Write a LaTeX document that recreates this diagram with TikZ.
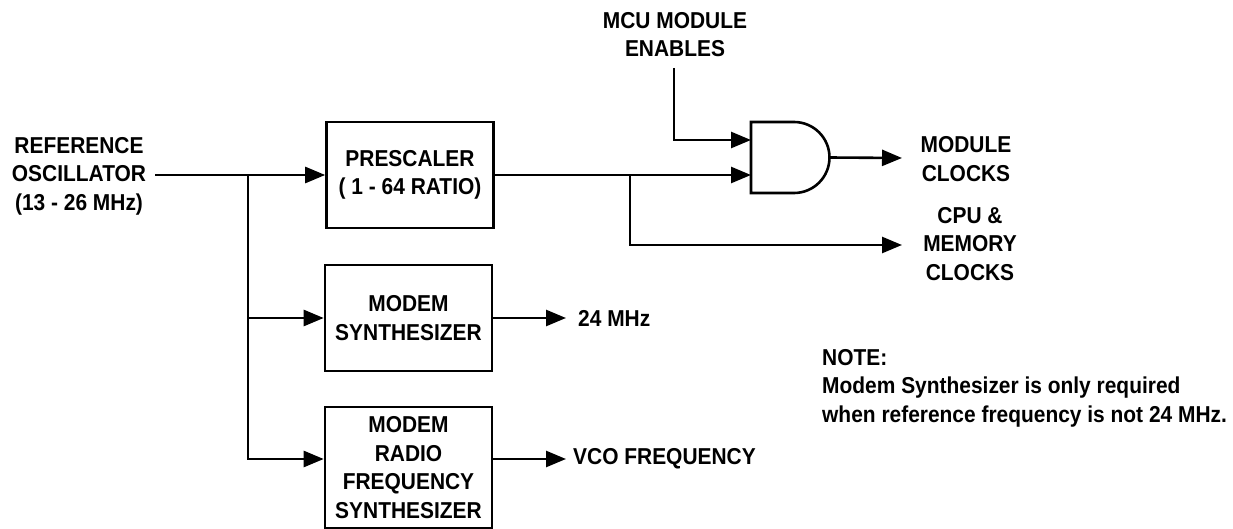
\documentclass[tikz,border=0pt]{standalone}
\usepackage{fontspec}
\setmainfont{Liberation Sans}
\newfontfamily\labfont{Liberation Sans}[FakeStretch=0.91]
\usetikzlibrary{arrows.meta}
\begin{document}
\begin{tikzpicture}[x=1pt,y=-1pt,
  lab/.style={font=\labfont\bfseries\fontsize{23}{28.5}\selectfont, align=center, inner sep=0pt},
  blockbox/.style={draw, line width=2.6pt, lab, minimum width=167pt},
  wire/.style={line width=2.6pt},
  arr/.style={wire, -{Triangle[length=20pt,width=16pt]}}]
\useasboundingbox (0,0) rectangle (1233,529);

% blocks
\node[blockbox, minimum height=106pt] (pre) at (410,175) {PRESCALER\\( 1 - 64 RATIO)};
\node[blockbox, minimum height=106pt] (ms) at (408.5,318) {MODEM\\SYNTHESIZER};
\node[blockbox, minimum height=121pt] (rf) at (408.5,467.5) {MODEM\\RADIO\\FREQUENCY\\SYNTHESIZER};

% labels
\node[lab] (ref) at (79,176) {REFERENCE\\OSCILLATOR\\(13 - 26 MHz)};
\node[lab] (en) at (675,34.5) {MCU MODULE\\ENABLES};
\node[lab] (modclk) at (966,159) {MODULE\\CLOCKS};
\node[lab] (cpuclk) at (970,244) {CPU \&\\MEMORY\\CLOCKS};
\node[lab, anchor=west] (m24) at (578,318) {24 MHz};
\node[lab, anchor=west] (vco) at (573,459) {VCO FREQUENCY};
\node[lab, align=left, anchor=north west] (note) at (822,349) {NOTE:\\Modem Synthesizer is only required\\when reference frequency is not 24 MHz.};

% AND gate
\coordinate (gnw) at (751,122);
\coordinate (gin1) at (751,140);
\coordinate (gin2) at (751,175);
\coordinate (gout) at (829.5,157.5);
\draw[wire, line join=miter] (gnw) -- (794,122) arc[start angle=-90, end angle=90, radius=35.5] -- (751,193) -- cycle;

% connectors
\coordinate (refout) at (155,175);
\coordinate (br1) at (248,175);
\coordinate (br2) at (248,459);
\coordinate (br3) at (630,175);
\coordinate (enstart) at (674,68);
\coordinate (modin) at (902,158);
\coordinate (cpuin) at (902,245);

\draw[arr] (refout) -- (pre.west);
\draw[wire, line cap=rect] (br1) -- (br2);
\draw[arr] (br1 |- ms.west) -- (ms.west);
\draw[arr] (br2) -- (br2 -| rf.west);
\draw[arr] (ms.east) -- ([xshift=-12pt]m24.west);
\draw[arr] (rf.east |- br2) -- (566,459);
\draw[arr] (pre.east) -- (gin2);
\draw[arr, line join=miter] (br3) |- (cpuin);
\draw[arr, line join=miter] (enstart) |- (gin1);
\draw[arr] (gout) -- (modin);
\end{tikzpicture}
\end{document}
